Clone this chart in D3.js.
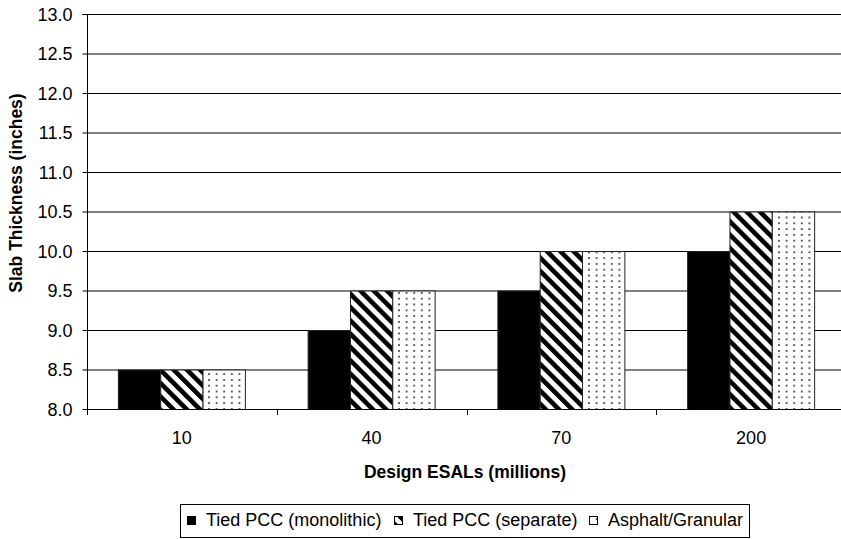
<!DOCTYPE html>
<html><head><meta charset="utf-8">
<script src="https://cdn.jsdelivr.net/npm/d3@7"></script>
<style>body{margin:0;background:#fff}svg{display:block;font-family:"Liberation Sans",Arial,sans-serif}</style>
</head><body>
<svg id="c" width="841" height="539"></svg>
<script>
const categories = ["10","40","70","200"];
const seriesNames = ["Tied PCC (monolithic)","Tied PCC (separate)","Asphalt/Granular"];
const monolithic = [8.5, 9.0, 9.5, 10.0];
const separate = [8.5, 9.5, 10.0, 10.5];
const asphalt = [8.5, 9.5, 10.0, 10.5];
const yTicks = [8.0,8.5,9.0,9.5,10.0,10.5,11.0,11.5,12.0,12.5,13.0];
const series = [monolithic, separate, asphalt];

const svg = d3.select("#c");
const FONT = "Liberation Sans, Arial, sans-serif";
const m = {l:87, t:14, r:846, b:409};
const defs = svg.append("defs");
const hatch = defs.append("pattern").attr("id","hatch").attr("patternUnits","userSpaceOnUse")
  .attr("width",9.4).attr("height",9.4).attr("patternTransform","rotate(-45)");
hatch.append("rect").attr("width",9.4).attr("height",9.4).attr("fill","#fff");
hatch.append("rect").attr("x",0).attr("width",4.6).attr("height",9.4).attr("fill","#000");
const dots = defs.append("pattern").attr("id","dots").attr("patternUnits","userSpaceOnUse")
  .attr("width",7.6).attr("height",5.8);
dots.append("rect").attr("width",7.6).attr("height",5.8).attr("fill","#fff");
dots.append("circle").attr("cx",3.8).attr("cy",2.9).attr("r",1.0).attr("fill","#333");
const fills = ["#000","url(#hatch)","url(#dots)"];

const x = d3.scaleBand().domain(categories).range([m.l,m.r]);
const x1 = d3.scaleBand().domain(d3.range(3)).range([0, 127]);
const y = d3.scaleLinear().domain([8,13]).range([m.b,m.t]);

// gridlines
svg.append("g").selectAll("line").data(yTicks).join("line")
  .attr("x1",m.l).attr("x2",m.r).attr("y1",d=>y(d)+0.5).attr("y2",d=>y(d)+0.5)
  .attr("stroke","#000").attr("stroke-width",1);

// bars
const g = svg.append("g");
categories.forEach((c,i)=>{
  const x0 = x(c) + (x.bandwidth()-127)/2;
  series.forEach((s,j)=>{
    g.append("rect").attr("x",x0+x1(j)).attr("width",x1.bandwidth())
      .attr("y",y(s[i])+0.5).attr("height",y(8)-y(s[i]))
      .attr("fill",fills[j]).attr("stroke","#222").attr("stroke-width",1);
  });
});

// y axis
const ya = svg.append("g").attr("transform",`translate(${m.l+0.5},0)`)
  .call(d3.axisLeft(y).tickValues(yTicks).tickFormat(d3.format(".1f")).tickSize(5).tickPadding(10));
ya.select(".domain").attr("d",`M-5,${m.t+0.5}H0V${m.b+0.5}`).attr("stroke","#000");
ya.selectAll(".tick line").attr("stroke","#000");
ya.selectAll(".tick").attr("transform",d=>`translate(0,${y(d)+0.5})`);
ya.selectAll("text").attr("font-size",18).attr("fill","#000").attr("font-family",FONT).attr("dy","0.35em");

// x axis
const xa = svg.append("g").attr("transform",`translate(0,${m.b+0.5})`)
  .call(d3.axisBottom(x).tickSize(0).tickPadding(0));
xa.select(".domain").remove();
xa.append("line").attr("x1",m.l).attr("x2",m.r).attr("stroke","#000");
xa.selectAll(".tick text").attr("font-size",18).attr("fill","#000").attr("font-family",FONT)
  .attr("y",34).attr("dy",0);
svg.append("g").selectAll("line").data(categories.map(c=>x(c)).concat([m.r])).join("line")
  .attr("x1",d=>Math.round(d)+0.5).attr("x2",d=>Math.round(d)+0.5).attr("y1",m.b).attr("y2",m.b+6)
  .attr("stroke","#000");

// titles
svg.append("text").attr("x",465).attr("y",478).attr("text-anchor","middle")
  .attr("font-size",17.5).attr("font-weight","bold").text("Design ESALs (millions)");
svg.append("text").attr("transform","translate(22,193) rotate(-90)").attr("text-anchor","middle")
  .attr("font-size",17.5).attr("font-weight","bold").text("Slab Thickness (inches)");

// legend
const lg = svg.append("g");
lg.append("rect").attr("x",180.5).attr("y",504.5).attr("width",569).attr("height",33)
  .attr("fill","#fff").attr("stroke","#000");
const lx = [187, 394, 589];
seriesNames.forEach((n,j)=>{
  lg.append("rect").attr("x",lx[j]+0.5).attr("y",516.5).attr("width",8).attr("height",8)
    .attr("fill",fills[j]).attr("stroke","#000");
  lg.append("text").attr("x",lx[j]+19).attr("y",526).attr("font-size",18).text(n);
});
</script>
</body></html>
